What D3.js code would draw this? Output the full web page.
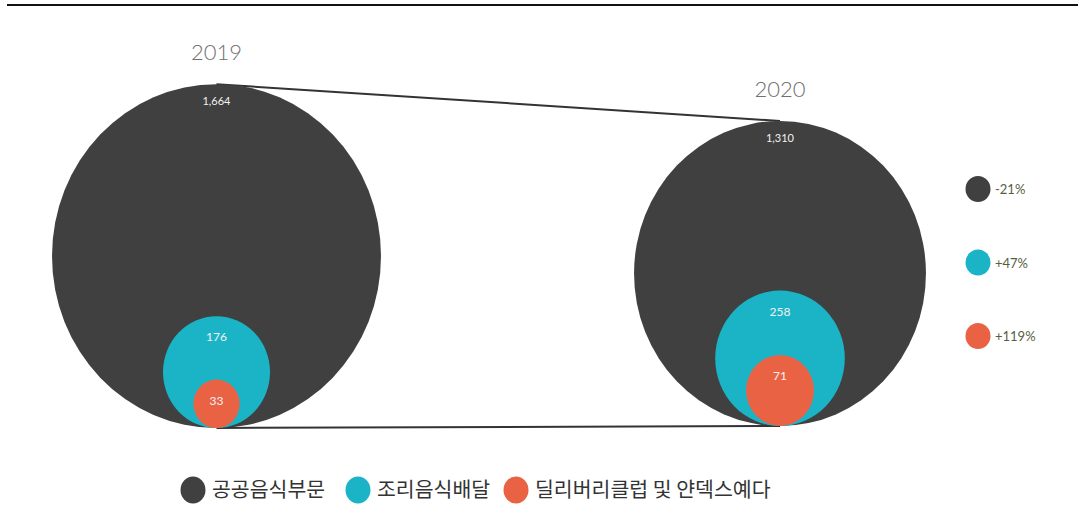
<!DOCTYPE html>
<html>
<head>
<meta charset="utf-8">
<script src="https://cdn.jsdelivr.net/npm/d3@7"></script>
<style>
  body { margin: 0; background: #fff; }
  text { font-family: Lato, "Noto Sans CJK KR", sans-serif; }
</style>
</head>
<body>
<svg id="chart" width="1078" height="531"></svg>
<script>
const years = ["2019", "2020"]
const series = ["공공음식부문", "조리음식배달", "딜리버리클럽 및 얀덱스예다"]
const values2019 = [1664, 176, 33]
const values2020 = [1310, 258, 71]
const changes = ["-21%", "+47%", "+119%"]
const colors = ["#404040", "#1bb4c7", "#ea6244"]

const svg = d3.select("#chart"),
    width = +svg.attr("width"),
    height = +svg.attr("height");

// the picture is stretched a little vertically
const stretch = 1.045

const r = d3.scaleSqrt()
    .domain([0, 1664])
    .range([0, 164.5])

const x = d3.scalePoint()
    .domain(years)
    .range([216.5, 780])

const bottom = d3.scaleOrdinal()
    .domain(years)
    .range([428, 426])

const groups = years.map(function (y, i) {
    return {year: y, values: i == 0 ? values2019 : values2020}
})

// top rule
svg.append("line")
    .attr("x1", 7).attr("x2", width)
    .attr("y1", 5).attr("y2", 5)
    .style("stroke", "#111")
    .style("stroke-width", 2.2)

// connecting lines (top and bottom of the big circles)
const tops = groups.map(g => [x(g.year), bottom(g.year) - 2 * r(g.values[0]) * stretch])
const bots = groups.map(g => [x(g.year), bottom(g.year)])
svg.selectAll(".link")
    .data([tops, bots])
    .join("path")
    .attr("class", "link")
    .attr("d", d3.line())
    .style("fill", "none")
    .style("stroke", "#333")
    .style("stroke-width", 2)

groups.forEach(function (g) {
    const cx = x(g.year), by = bottom(g.year)
    const gg = svg.append("g")

    gg.selectAll("ellipse")
        .data(g.values)
        .join("ellipse")
        .attr("cx", cx)
        .attr("cy", d => by - r(d) * stretch)
        .attr("rx", d => r(d))
        .attr("ry", d => r(d) * stretch)
        .attr("fill", (d, i) => colors[i])

    gg.selectAll(".val")
        .data(g.values)
        .join("text")
        .attr("class", "val")
        .attr("x", cx)
        .attr("y", (d, i) => by - 2 * r(d) * stretch + (i == 0 ? 21 : 25))
        .attr("text-anchor", "middle")
        .style("font-size", (d, i) => i == 0 ? "11px" : "12px")
        .style("fill", "#f2f2f2")
        .text(d => d3.format(",")(d))

    gg.append("text")
        .attr("x", cx)
        .attr("y", by - 2 * r(g.values[0]) * stretch - 24)
        .attr("text-anchor", "middle")
        .style("font-size", "22px")
        .style("font-weight", 300)
        .style("fill", "#707070")
        .text(g.year)
})

// change legend on the right
const legY = d3.scalePoint().domain(changes).range([189, 336])
const leg = svg.selectAll(".chg")
    .data(changes)
    .join("g")
    .attr("class", "chg")
    .attr("transform", d => `translate(978,${legY(d)})`)
leg.append("ellipse")
    .attr("rx", 12.5).attr("ry", 13)
    .attr("fill", (d, i) => colors[i])
leg.append("text")
    .attr("x", 17).attr("y", 5)
    .style("font-size", "13px")
    .style("fill", "#55603f")
    .text(d => d)

// bottom legend
const legX = [193, 358, 516]
const bl = svg.selectAll(".ser")
    .data(series)
    .join("g")
    .attr("class", "ser")
    .attr("transform", (d, i) => `translate(${legX[i]},490)`)
bl.append("ellipse")
    .attr("rx", 12.5).attr("ry", 13.5)
    .attr("fill", (d, i) => colors[i])
bl.append("text")
    .attr("x", 19).attr("y", 7)
    .style("font-family", "'Noto Sans CJK KR', sans-serif")
    .style("font-size", "20.5px")
    .style("fill", "#333")
    .text(d => d)
</script>
</body>
</html>
